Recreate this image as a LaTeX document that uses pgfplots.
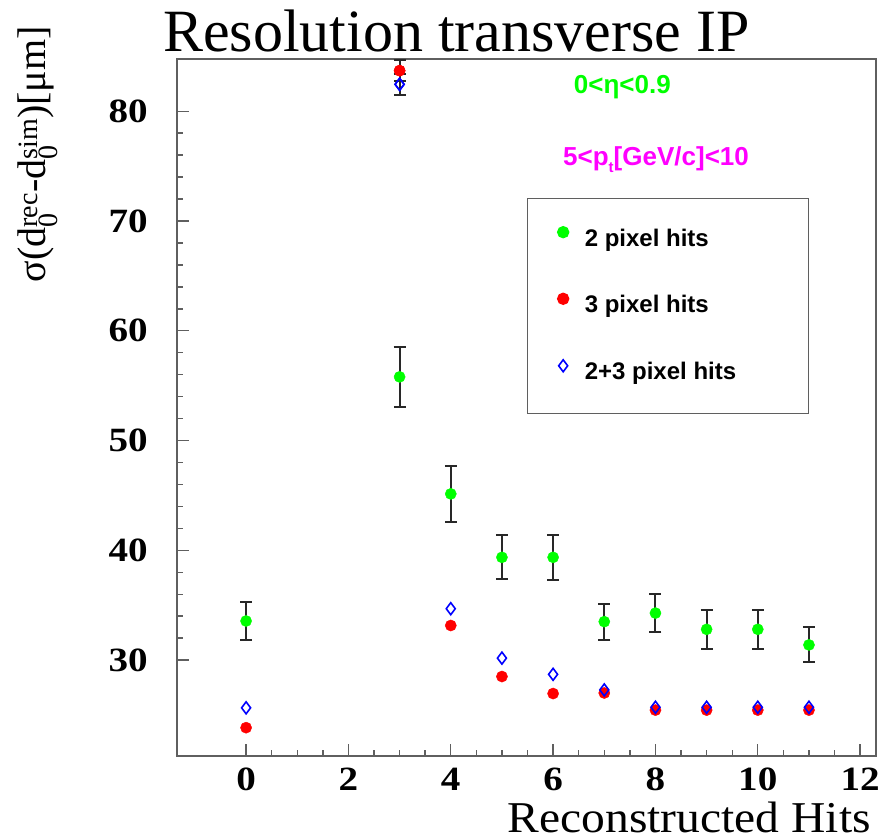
\documentclass[border=0pt]{standalone}
\usepackage{fontspec}
\setmainfont{Liberation Serif}
\newfontfamily\helv{Liberation Sans}
\usepackage{pgfplots}
\pgfplotsset{compat=1.18}
\usepackage{pgfplotstable}

\definecolor{rgreen}{RGB}{0,255,0}
\definecolor{rred}{RGB}{255,0,0}
\definecolor{rblue}{RGB}{0,0,255}
\definecolor{rmag}{RGB}{255,0,255}
\definecolor{framecol}{RGB}{95,95,95}
\definecolor{barcol}{RGB}{40,40,40}

% x = reconstructed hits, y = sigma [um], ey = error
\pgfplotstableread{
x  y      ey
0  33.56  1.73
3  55.80  2.70
4  45.14  2.55
5  39.36  2.00
6  39.36  2.05
7  33.50  1.65
8  34.28  1.70
9  32.80  1.80
10 32.80  1.75
11 31.38  1.60
}\twohits
\pgfplotstableread{
x  y
0  23.84
3  83.70
4  33.15
5  28.50
6  26.95
7  27.00
8  25.44
9  25.44
10 25.44
11 25.44
}\threehits
\pgfplotstableread{
x  y
0  25.65
3  82.45
4  34.68
5  30.18
6  28.70
7  27.28
8  25.70
9  25.70
10 25.70
11 25.70
}\bothhits
% only the x=3 points carry visible errors for 3 and 2+3 hits
\pgfplotstableread{
x  y      ey
3  83.70  0.95
}\threeerr
\pgfplotstableread{
x  y      ey
3  82.45  0.95
}\botherr

\newcommand\legtext[1]{\makebox[199bp][l]{#1}}

\begin{document}
\begin{tikzpicture}
\path[use as bounding box] (-177bp,-84bp) rectangle (711bp,756bp);
\begin{axis}[
  at={(0,0)}, anchor=south west,
  width=699bp, height=697bp, scale only axis,
  xmin=-1.35, xmax=12.31, ymin=21.26, ymax=84.76,
  xtick={0,2,...,12}, minor x tick num=3,
  ytick={30,40,...,80}, minor y tick num=4,
  tick align=inside, xtick pos=bottom, ytick pos=left,
  major tick length=12bp, minor tick length=6bp,
  axis line style={framecol, line width=1.4bp},
  every tick/.append style={framecol, line width=1.4bp},
  tick label style={font=\fontsize{34bp}{34bp}\selectfont\bfseries,
    /pgf/number format/assume math mode=true, inner sep=0pt},
  xticklabel={\scalebox{1.15}[1]{\pgfmathprintnumber{\tick}}},
  yticklabel={\scalebox{1.15}[1]{\pgfmathprintnumber{\tick}}},
  xticklabel style={anchor=north, yshift=-12bp},
  yticklabel style={anchor=east, xshift=-29bp},
  clip=true,
  legend style={at={(0.5007,0.8006)}, anchor=north west,
    draw=framecol, line width=1.2bp, fill=white,
    inner xsep=25bp, inner ysep=28bp,
    row sep=41bp, column sep=11bp,
    font=\helv\bfseries\fontsize{24bp}{24bp}\selectfont,
    nodes={inner sep=0pt, text height=18bp, text depth=6bp}},
  legend cell align=left,
  legend image code/.code={\path (-10bp,0bp) (10bp,0bp);
    \draw[#1] plot coordinates {(0bp,8bp)};},
  error bars/error bar style={barcol, line width=2bp},
  error bars/error mark options={rotate=90, barcol, mark size=6bp, line width=2bp},
]
\addplot[only marks, mark=*, mark size=5.6bp, draw=rgreen, fill=rgreen,
  error bars/.cd, y dir=both, y explicit]
  table[x=x, y=y, y error=ey] {\twohits};
\addlegendentry{\legtext{2 pixel hits}}

\addplot[only marks, mark=diamond, mark size=6bp, forget plot,
  mark options={draw=rblue, fill=none, line width=1.6bp},
  error bars/.cd, y dir=both, y explicit]
  table[x=x, y=y, y error=ey] {\botherr};
\addplot[only marks, mark=*, mark size=5.6bp, draw=rred, fill=rred, forget plot,
  error bars/.cd, y dir=both, y explicit]
  table[x=x, y=y, y error=ey] {\threeerr};

\addplot[only marks, mark=*, mark size=5.6bp, draw=rred, fill=rred]
  table[x=x, y=y] {\threehits};
\addlegendentry{\legtext{3 pixel hits}}

\addplot[only marks, mark=diamond, mark size=6bp,
  mark options={draw=rblue, fill=none, line width=1.6bp}]
  table[x=x, y=y] {\bothhits};
\addlegendentry{\legtext{2+3 pixel hits}}
\end{axis}

% title, axis titles and kinematic range
\node[anchor=base, font=\fontsize{60bp}{60bp}\selectfont]
  at (279.5bp,704bp) {Resolution transverse IP};
\node[anchor=base east, inner sep=0pt, font=\fontsize{44bp}{44bp}\selectfont]
  at (694bp,-76bp) {\scalebox{1.08}[1]{Reconstructed Hits}};
\node[rotate=90, anchor=base east, inner sep=0pt, font=\fontsize{40bp}{40bp}\selectfont]
  at (-131bp,730bp)
  {σ(d${}_{\mbox{\fontsize{28bp}{28bp}\selectfont 0}}^{\mbox{\fontsize{28bp}{28bp}\selectfont rec}}$-d${}_{\mbox{\fontsize{28bp}{28bp}\selectfont 0}}^{\mbox{\fontsize{28bp}{28bp}\selectfont sim}}$)[μm]};
\node[anchor=base east, inner sep=0pt, text=rgreen, font=\helv\bfseries\fontsize{26bp}{26bp}\selectfont]
  at (494bp,662bp) {0<η<0.9};
\node[anchor=base west, inner sep=0pt, text=rmag, font=\helv\bfseries\fontsize{26bp}{26bp}\selectfont]
  at (386bp,590bp) {5<p\raisebox{-0.25em}{\fontsize{15bp}{15bp}\selectfont t}[GeV/c]<10};
\end{tikzpicture}
\end{document}
